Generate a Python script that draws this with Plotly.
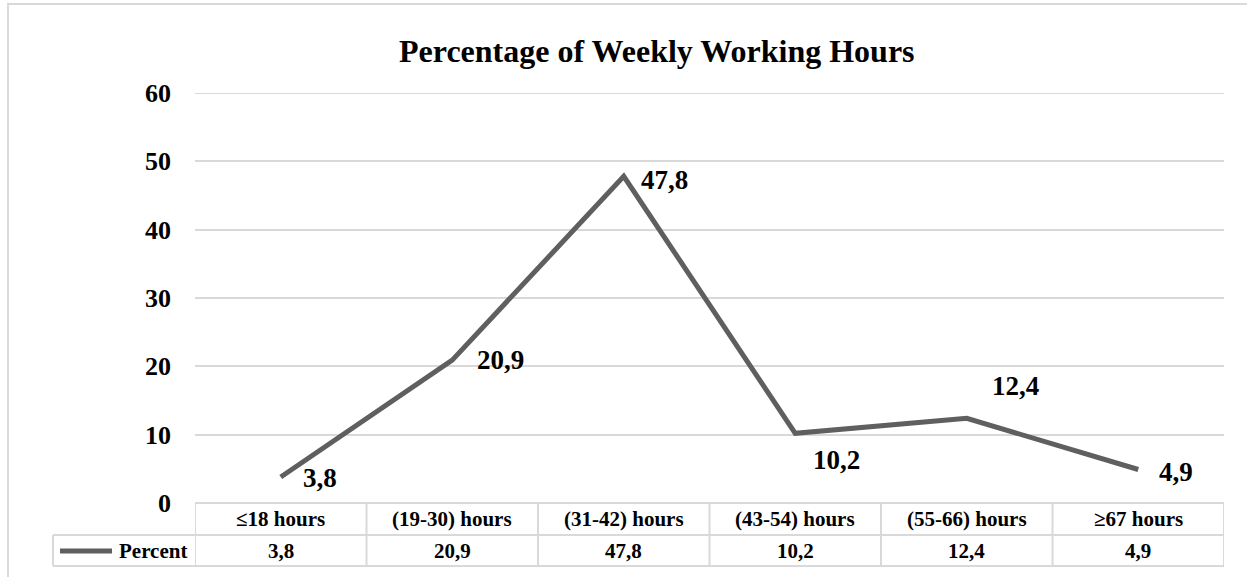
import plotly.graph_objects as go

categories = ["≤18 hours", "(19-30) hours", "(31-42) hours", "(43-54) hours", "(55-66) hours", "≥67 hours"]
values = [3.8, 20.9, 47.8, 10.2, 12.4, 4.9]
value_labels = ["3,8", "20,9", "47,8", "10,2", "12,4", "4,9"]
series_name = "Percent"
title_text = "Percentage of Weekly Working Hours"
y_ticks = [0, 10, 20, 30, 40, 50, 60]

W, H = 1247, 577
L, R, T, B = 195, 1224, 93, 503
PW, PH = R - L, B - T

def px(x):
    return (x - L) / PW

def py(y):
    return (B - y) / PH

FONT = "Liberation Serif, Times New Roman, serif"
LINE = "#5f5f5f"
GRID = "#d9d9d9"

xs = list(range(len(categories)))

fig = go.Figure()
fig.add_trace(go.Scatter(
    x=xs, y=values, mode="lines",
    line=dict(color=LINE, width=5),
    name=series_name, showlegend=False, hoverinfo="skip",
))

annotations = []
# data labels
offsets = [(39, -1), (48, 0), (41, -4), (41, -27), (49, 32), (38, -2)]
for i, (v, lab) in enumerate(zip(values, value_labels)):
    dx, dy = offsets[i]
    annotations.append(dict(
        x=i, y=v, xref="x", yref="y", text=lab, showarrow=False,
        xshift=dx, yshift=dy,
        font=dict(family=FONT, size=27, color="black", weight="bold"),
    ))

# table text
row1_y = py(519)
row2_y = py(551)
for i, (c, lab) in enumerate(zip(categories, value_labels)):
    annotations.append(dict(
        x=i, y=row1_y, xref="x", yref="paper", text=c, showarrow=False,
        font=dict(family=FONT, size=21, color="black", weight="bold"),
        yanchor="middle",
    ))
    annotations.append(dict(
        x=i, y=row2_y, xref="x", yref="paper", text=lab, showarrow=False,
        font=dict(family=FONT, size=21, color="black", weight="bold"),
        yanchor="middle",
    ))
annotations.append(dict(
    x=px(117), y=row2_y, xref="paper", yref="paper", text=series_name, showarrow=False,
    xanchor="left", yanchor="middle",
    font=dict(family=FONT, size=21, color="black", weight="bold"),
))
# title
annotations.append(dict(
    x=px(657), y=py(51), xref="paper", yref="paper", text=title_text, showarrow=False,
    xanchor="center", yanchor="middle",
    font=dict(family=FONT, size=32, color="black", weight="bold"),
))

shapes = []
# outer border
shapes.append(dict(type="rect", xref="paper", yref="paper",
                   x0=px(8), x1=px(1260), y0=py(4), y1=py(590),
                   line=dict(color=GRID, width=2), layer="below"))
# top gridline (at the range edge)
shapes.append(dict(type="line", xref="paper", yref="y",
                   x0=0, x1=1, y0=y_ticks[-1], y1=y_ticks[-1],
                   line=dict(color=GRID, width=2), layer="below"))
# table horizontal lines
for yy, x0 in [(503, L), (535, 53), (566, 53)]:
    shapes.append(dict(type="line", xref="paper", yref="paper",
                       x0=px(x0), x1=1, y0=py(yy), y1=py(yy),
                       line=dict(color=GRID, width=2)))
# table vertical lines at category boundaries
for i in range(len(categories) + 1):
    shapes.append(dict(type="line", xref="x", yref="paper",
                       x0=i - 0.5, x1=i - 0.5, y0=py(503), y1=py(566),
                       line=dict(color=GRID, width=2)))
shapes.append(dict(type="line", xref="paper", yref="paper",
                   x0=px(53), x1=px(53), y0=py(535), y1=py(566),
                   line=dict(color=GRID, width=2)))
# legend key
shapes.append(dict(type="line", xref="paper", yref="paper",
                   x0=px(60), x1=px(112), y0=py(551), y1=py(551),
                   line=dict(color=LINE, width=5)))

fig.update_layout(
    width=W, height=H,
    margin=dict(l=L, r=W - R, t=T, b=H - B, pad=0),
    paper_bgcolor="white", plot_bgcolor="white",
    annotations=annotations, shapes=shapes,
    showlegend=False,
    xaxis=dict(range=[-0.5, len(categories) - 0.5], showgrid=False, zeroline=False,
               showticklabels=False, showline=False, fixedrange=True),
    yaxis=dict(range=[0, 60], tickvals=y_ticks, showgrid=True, gridcolor=GRID, gridwidth=2,
               zeroline=False, showline=False, ticklabelstandoff=23,
               tickfont=dict(family=FONT, size=26, color="black", weight="bold"),
               fixedrange=True),
)

fig.write_html("out.html", config={"displayModeBar": False},
               post_script="document.body.style.margin='0';document.body.style.overflow='hidden';")
